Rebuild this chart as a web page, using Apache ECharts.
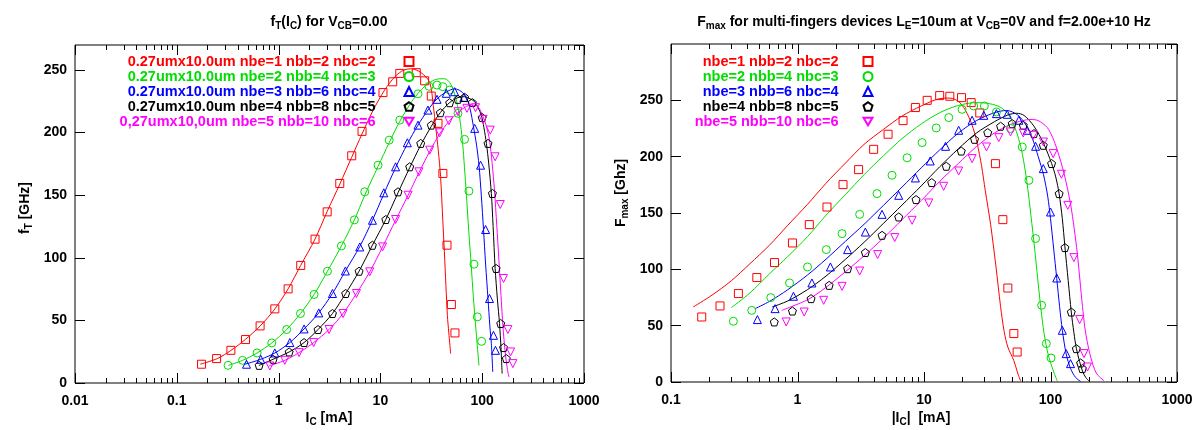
<!DOCTYPE html>
<html><head><meta charset="utf-8">
<script src="https://cdn.jsdelivr.net/npm/echarts@6/dist/echarts.min.js"></script>
<style>html,body{margin:0;padding:0;background:#fff}#c{width:1202px;height:430px}</style>
</head><body><div id="c"></div>
<script>
// ---------- tick labels ----------
const leftXTicks = [0.01, 0.1, 1, 10, 100, 1000];
const leftXLabels = ['0.01', '0.1', '1', '10', '100', '1000'];
const rightXTicks = [0.1, 1, 10, 100, 1000];
const rightXLabels = ['0.1', '1', '10', '100', '1000'];
const leftMinor = [0.02,0.03,0.04,0.05,0.06,0.07,0.08,0.09,0.2,0.3,0.4,0.5,0.6,0.7,0.8,0.9,2,3,4,5,6,7,8,9,20,30,40,50,60,70,80,90,200,300,400,500,600,700,800,900];
const rightMinor = [0.2,0.3,0.4,0.5,0.6,0.7,0.8,0.9,2,3,4,5,6,7,8,9,20,30,40,50,60,70,80,90,200,300,400,500,600,700,800,900];

// ---------- names ----------
const leftNames = ['0.27umx10.0um nbe=1 nbb=2 nbc=2','0.27umx10.0um nbe=2 nbb=4 nbc=3','0.27umx10.0um nbe=3 nbb=6 nbc=4','0.27umx10.0um nbe=4 nbb=8 nbc=5','0,27umx10,0um nbe=5 nbb=10 nbc=6'];
const rightNames = ['nbe=1 nbb=2 nbc=2','nbe=2 nbb=4 nbc=3','nbe=3 nbb=6 nbc=4','nbe=4 nbb=8 nbc=5','nbe=5 nbb=10 nbc=6'];

// ---------- fT(Ic) measured points ----------
const ftRed = [[0.175,15],[0.246,19.5],[0.34,26.1],[0.473,34.7],[0.658,45.6],[0.918,59.2],[1.24,75.2],[1.65,93.9],[2.28,114.9],[3.0,136.7],[3.99,159.4],[5.23,181.5],[6.6,201],[10.6,232],[13.2,240.6],[15.5,247.3],[22.5,247.9],[27.2,241.4],[31.6,229.2],[36.8,207.4],[41.1,167.4],[45.1,110.1],[49.8,62.7],[54.0,40.0]];
const ftGreen = [[0.319,14.1],[0.442,18.1],[0.615,24],[0.857,32],[1.2,42.7],[1.64,55.5],[2.23,70.7],[3.02,89.3],[4.14,109.5],[5.55,130.3],[7.02,152.7],[9.48,174],[12.2,194],[15.5,210],[23.4,231],[30,237],[36,238],[41,236.7],[47.9,234],[57.8,215.4],[67.1,194.6],[74.1,153.3],[83,94.9],[89.5,52.8],[98.7,33.3]];
const ftBlue = [[0.484,15],[0.668,18.9],[0.918,24],[1.29,32.3],[1.78,43.2],[2.48,56],[3.38,71.5],[4.53,89.5],[6.27,108.7],[8.35,130],[10.8,151.9],[14.1,172.7],[18.4,191.9],[23.4,206],[29.3,218],[36,226.6],[44.4,231.4],[53.6,232.7],[66,228],[84.4,203.4],[96.4,174],[108,122.6],[118,67.5],[129,38.1],[135,26.1]];
const ftBlack = [[0.644,14.1],[0.883,18.9],[1.27,24.8],[1.78,32.3],[2.44,42.7],[3.38,55.5],[4.56,71.5],[6.17,89.3],[8.34,110],[11.3,130.6],[14.9,152.7],[19.4,172.7],[24.9,191.4],[31.6,206],[38.8,215.9],[47.9,223.9],[57.8,226.6],[67.2,228.2],[80,224],[100,212],[114,191.4],[126,151.4],[137,91.5],[152,47.5],[162,28.3],[172.5,19.5]];
const ftMagenta = [[0.82,13.6],[1.15,18.1],[1.59,24.3],[2.21,32.3],[3.13,42.7],[4.3,55.5],[5.82,71.5],[7.86,88.8],[10.5,108.7],[14.1,130.6],[18.7,150],[23.9,168.7],[30.5,186],[38.2,199.9],[47.1,209.5],[57.8,216.7],[70.8,219.4],[86,219.9],[102,210.6],[120,202],[134,180.7],[150.5,142.6],[162,83.5],[178.8,42.7],[190,24.8],[200,15.5]];

// ---------- fT(Ic) model curves ----------
const ftRedLine = [[0.17,15],[0.25,19.5],[0.34,26],[0.47,34.7],[0.66,45.6],[0.92,59.2],[1.24,75.2],[1.65,94],[2.28,115],[3,137],[4,159],[5.2,180],[6.6,199],[8.5,218],[11,234],[14,245],[17,250],[20,251],[25,248],[30.5,240],[33,222],[35,204],[37,186],[39,165],[41,130],[42.5,105],[44,78],[45.5,54],[47,40],[49,23.5]];
const ftGreenLine = [[0.32,14],[0.44,18],[0.615,24],[0.857,32],[1.2,42.7],[1.64,55.5],[2.23,70.7],[3.02,89.3],[4.14,109.5],[5.55,130.3],[7.02,150],[9.48,173],[12.2,192],[15.5,209],[20,224],[25,234],[31,240.5],[38,243],[43,243],[48,240],[52,234],[56,225],[60,212],[64,193],[67,172],[70,150],[74,120],[78,94],[82,68],[85,52],[89,32],[93,14]];
const ftBlueLine = [[0.47,15],[0.67,19],[0.92,24],[1.29,32.3],[1.78,43.2],[2.48,56],[3.38,71.5],[4.53,89.5],[6.27,109],[8.35,130],[10.8,151],[14.1,172],[18.4,191],[23.4,206],[29.3,218],[36,227],[44.4,232.5],[53.6,235],[62,233],[70,228],[76,219],[82,205],[88,190],[93,174],[98,150],[103,122.6],[108,95],[114,67.5],[119,45],[123,31.5],[127,8.8]];
const ftBlackLine = [[0.64,14],[0.88,18.9],[1.27,24.8],[1.78,32.3],[2.44,42.7],[3.38,55.5],[4.56,71.5],[6.17,89.3],[8.34,110],[11.3,130.6],[14.9,152],[19.4,172],[24.9,190],[31.6,205],[38.8,216],[47.9,224],[57.8,228],[67,228.7],[76,227],[84.4,224.7],[91,220],[98,214],[104,204],[110,191.4],[116,175],[123,151.4],[128,125],[134,91.5],[141,67],[148,47.5],[153,28],[157,7.5]];
const ftMagentaLine = [[0.8,13.6],[1.15,18.1],[1.59,24.3],[2.21,32.3],[3.13,42.7],[4.3,55.5],[5.82,71.5],[7.86,88.8],[10.5,108.7],[14.1,130],[18.7,150],[23.9,168],[30.5,185],[38.2,199],[47.1,209],[57.8,216],[70,221],[78,222],[90.8,220.7],[102,212.7],[110,205],[118,194],[125,176],[132,154],[139,126],[146,98],[153,70],[160,44.8],[168,25],[176,12],[183,4.8]];

// ---------- Fmax(Ic) measured points ----------
const fmRed = [[0.175,57.7],[0.244,67.5],[0.341,78.5],[0.477,92.7],[0.658,106],[0.912,123.4],[1.24,139.7],[1.71,155.3],[2.29,175.2],[3.04,188.5],[4.0,206.5],[5.2,219.9],[6.83,232],[8.55,243.6],[10.6,250],[13.3,254.2],[16,253.6],[19.8,252.4],[23.6,248],[27.6,238.8],[36.7,193.8],[42,144.1],[46,83.4],[51.3,43],[54.5,26.6]];
const fmGreen = [[0.311,53.9],[0.435,63.6],[0.615,74.9],[0.865,87.9],[1.2,102.1],[1.69,117.5],[2.25,131.7],[3.1,148.8],[4.25,167.2],[5.59,183.5],[7.35,199],[9.66,212.5],[12.5,225.5],[15.7,234.7],[20,242],[24.7,245],[30,245],[37.4,239.7],[48.3,225],[59.8,208.6],[67.5,179],[76.2,127.3],[85.1,68.1],[92.7,34.1],[101,21.3]];
const fmBlue = [[0.482,55.4],[0.665,65.1],[0.929,76.1],[1.3,87.9],[1.82,102.1],[2.49,117.5],[3.44,133.1],[4.66,148.8],[6.31,165.7],[8.55,181.1],[11.2,196.2],[14.8,209.2],[18.8,223.4],[24,232.3],[29.7,236.7],[37.4,238.2],[45.5,237.6],[56.2,232.3],[65.5,223.4],[76.2,209.2],[87.7,189.4],[100,150.9],[112,92.3],[124,45.9],[133,25.2],[144,16.3]];
const fmBlack = [[0.655,53.3],[0.912,63],[1.28,74],[1.78,85.8],[2.49,100.6],[3.44,114.9],[4.66,130.2],[6.31,146.5],[8.65,161.9],[11.5,177],[15,191.5],[19.7,205],[25.1,215.4],[31.9,221.4],[40.3,227],[49.8,229.4],[60.9,227.9],[74,220.5],[87.7,210.1],[102,193.9],[117,167.2],[130,119.3],[146,62.1],[160,29.6],[173,16.9],[178.6,11.9]];
const fmMagenta = [[0.814,53.3],[1.13,62.1],[1.61,72.5],[2.25,84.9],[3.1,98.5],[4.3,113.1],[5.87,128.2],[8.05,143.5],[10.9,158.9],[14.3,173.7],[18.8,187.3],[24,198.3],[31.2,208.6],[39,216.9],[48.3,221.9],[60.9,221],[73.1,219],[88,213],[105,202.7],[122,184.4],[137,156.8],[153,110.4],[170,55.4],[184,25.2],[196,13.3]];

// ---------- Fmax(Ic) model curves ----------
const fmRedLine = [[0.15,66.6],[0.211,77.1],[0.3,89.9],[0.42,104.9],[0.6,121.4],[0.84,139.2],[1.2,157.7],[1.68,176.4],[2.4,194.4],[3.36,210.9],[4.8,224.4],[6.7,236],[9.5,245],[13.3,251.5],[16,252],[19,248.5],[22,238],[24.5,225],[26.3,212],[28.5,192],[30.5,170],[33.6,140],[37,103],[40.3,67],[43,45],[46,31],[51.3,19],[55,8],[58,1]];
const fmGreenLine = [[0.3,66],[0.42,79],[0.6,96],[0.84,111.5],[1.2,129],[1.68,148],[2.4,166.5],[3.36,184],[4.8,201],[6.7,216],[9.5,229],[13.3,239],[18.7,245.5],[26,248],[33,247],[40,244],[46,238],[51,229],[56,216],[60,202],[65,178],[70,148],[75,118],[79,93],[84,65],[89,43],[96,24],[106,9],[113,1]];
const fmBlueLine = [[0.46,65],[0.6,71.5],[0.84,82],[1.2,95],[1.68,109],[2.4,125],[3.36,140],[4.8,157],[6.7,173],[9.5,190],[13.3,206],[18.7,221],[26,232],[36,239],[45,241],[55,237],[64,228],[72,216],[80,200],[88,184],[95,165],[100,145],[106,118],[112,92],[118,67],[124,46],[133,25],[144,12],[158,4],[173,0.5]];
const fmBlackLine = [[0.63,66.6],[0.84,72],[1.2,82],[1.68,94],[2.4,109],[3.36,124],[4.8,141],[6.7,157],[9.5,174],[13.3,191],[18.7,207],[26,221],[36,231],[46,237],[54,238.5],[62,236.5],[74,227],[88,212],[102,194],[110,182],[117,167],[124,145],[130,120],[138,90],[146,62],[153,44],[160,30],[170,18],[180,9],[190,4],[201,1]];
const fmMagentaLine = [[0.75,63.6],[1.2,73],[1.68,84],[2.4,98],[3.36,112],[4.8,128],[6.7,144],[9.5,161],[13.3,178],[18.7,194],[26,209],[36,221],[48,228.5],[60,232],[70,233],[80,232],[94,226],[104,217],[113,206],[128,185],[144,158],[154,136],[163,114],[171,90],[179,67],[187,48],[195,36],[208,22],[230,8],[265,1]];

// ---------- styling ----------
const COLORS = ['#ff0000', '#00dd00', '#0000ff', '#000000', '#ff00ff'];
const SYMBOLS = ['rect', 'circle', 'triangle', 'path://M0,-10L9.51,-3.09L5.88,8.09L-5.88,8.09L-9.51,-3.09Z', 'path://M-10,-8L10,-8L0,9Z'];
const FONTNAME = 'Liberation Sans';
const FONT = '"Liberation Sans", Arial, Helvetica, sans-serif';

const leftPts = [ftRed, ftGreen, ftBlue, ftBlack, ftMagenta];
const leftLines = [ftRedLine, ftGreenLine, ftBlueLine, ftBlackLine, ftMagentaLine];
const rightPts = [fmRed, fmGreen, fmBlue, fmBlack, fmMagenta];
const rightLines = [fmRedLine, fmGreenLine, fmBlueLine, fmBlackLine, fmMagentaLine];

function labelFor(ticks, labels) {
  return function (v) {
    let best = 0, bd = Infinity;
    ticks.forEach((t, i) => { const d = Math.abs(Math.log10(v) - Math.log10(t)); if (d < bd) { bd = d; best = i; } });
    return labels[best];
  };
}

function tickSeries(xIdx, yIdx, vals, len, ymax) {
  return {
    type: 'custom', xAxisIndex: xIdx, yAxisIndex: yIdx, silent: true, clip: false, z: 5,
    data: vals.map(v => [v, 0]),
    renderItem: function (params, api) {
      const v = api.value(0);
      const b = api.coord([v, 0]);
      const t = api.coord([v, ymax]);
      const x = Math.round(b[0]) + 0.5;
      return { type: 'group', children: [
        { type: 'line', shape: { x1: x, y1: b[1], x2: x, y2: b[1] - len }, style: { stroke: '#000', lineWidth: 1 } },
        { type: 'line', shape: { x1: x, y1: t[1], x2: x, y2: t[1] + len }, style: { stroke: '#000', lineWidth: 1 } }
      ] };
    }
  };
}

const series = [];
function addPanel(gi, pts, lines, names) {
  for (let i = 0; i < 5; i++) {
    series.push({
      type: 'line', xAxisIndex: gi, yAxisIndex: gi * 2, data: lines[i], showSymbol: false,
      smooth: 0.3, silent: true, z: 2,
      lineStyle: { color: COLORS[i], width: 1 }, itemStyle: { color: COLORS[i] }
    });
    series.push({
      type: 'scatter', name: names[i], xAxisIndex: gi, yAxisIndex: gi * 2, data: pts[i],
      symbol: SYMBOLS[i], symbolSize: 8, silent: true, z: 3,
      itemStyle: { color: 'rgba(0,0,0,0)', borderColor: COLORS[i], borderWidth: 1, opacity: 1 }
    });
  }
}
addPanel(0, leftPts, leftLines, leftNames);
addPanel(1, rightPts, rightLines, rightNames);
series.push(tickSeries(0, 0, leftXTicks, 10, 270));
series.push(tickSeries(0, 0, leftMinor, 5, 270));
series.push(tickSeries(1, 2, rightXTicks, 10, 300));
series.push(tickSeries(1, 2, rightMinor, 5, 300));

const labelStyle = { fontFamily: FONT, fontSize: 14, fontWeight: 'bold', color: '#000' };

function xAxisCfg(gi, min, max, ticks, labels, split) {
  return {
    type: 'log', logBase: 10, gridIndex: gi, min: min, max: max, splitNumber: split,
    axisLine: { show: false }, axisTick: { show: false }, splitLine: { show: false }, minorTick: { show: false },
    axisLabel: Object.assign({ margin: 11, showMinLabel: true, showMaxLabel: true, formatter: labelFor(ticks, labels) }, labelStyle)
  };
}
function yAxisCfg(gi, max, pos, showLabel) {
  return {
    type: 'value', gridIndex: gi, min: 0, max: max, interval: 50, position: pos,
    axisLine: { show: false }, splitLine: { show: false },
    axisTick: { show: true, inside: true, length: 10, lineStyle: { color: '#000', width: 1 } },
    axisLabel: Object.assign({ show: showLabel, margin: 8, showMaxLabel: false }, labelStyle)
  };
}

// text with real subscripts: segments laid out left to right using measured widths
const measureCtx = document.createElement('canvas').getContext('2d');
function subText(cx, cy, segs, rot, mainSize, subSize) {
  const fonts = segs.map(sg => 'bold ' + (sg[1] ? subSize : mainSize) + 'px "' + FONTNAME + '"');
  const widths = segs.map((sg, i) => { measureCtx.font = fonts[i]; return measureCtx.measureText(sg[0]).width; });
  const W = widths.reduce((a, b) => a + b, 0);
  let x = -W / 2;
  const children = segs.map((sg, i) => {
    const el = { type: 'text', x: x, y: sg[1] ? Math.round(mainSize * 0.3) : 0, silent: true,
      style: { text: sg[0], font: fonts[i], fill: '#000', align: 'left', verticalAlign: 'middle', textAlign: 'left', textVerticalAlign: 'middle' } };
    x += widths[i];
    return el;
  });
  return { type: 'group', x: cx, y: cy, rotation: rot || 0, silent: true, children: children };
}

function legendCfg(names, iconCenterX, padRight) {
  return {
    orient: 'vertical', align: 'right', right: 1202 - (iconCenterX + 4.5), top: 54,
    itemWidth: 9, itemHeight: 9, itemGap: 0, padding: 0, selectedMode: false,
    textStyle: { fontFamily: FONT, fontSize: 14.5, fontWeight: 'bold', lineHeight: 15, padding: [0, padRight, 0, 0] },
    data: names.map((nm, i) => ({ name: nm, textStyle: { color: COLORS[i] } }))
  };
}

const option = {
  animation: false,
  backgroundColor: '#fff',
  grid: [
    { left: 75, top: 45, width: 509, height: 338, show: true, borderColor: '#000', borderWidth: 1, backgroundColor: 'transparent' },
    { left: 671, top: 44, width: 506, height: 338, show: true, borderColor: '#000', borderWidth: 1, backgroundColor: 'transparent' }
  ],
  xAxis: [
    xAxisCfg(0, 0.01, 1000, leftXTicks, leftXLabels, 5),
    xAxisCfg(1, 0.1, 1000, rightXTicks, rightXLabels, 4)
  ],
  yAxis: [
    yAxisCfg(0, 270, 'left', true), yAxisCfg(0, 270, 'right', false),
    yAxisCfg(1, 300, 'left', true), yAxisCfg(1, 300, 'right', false)
  ],
  legend: [legendCfg(leftNames, 410, 24), legendCfg(rightNames, 869, 20)],
  graphic: [
    subText(329, 22, [['f',0],['T',1],['(I',0],['C',1],[') for V',0],['CB',1],['=0.00',0]], 0, 14, 10),
    subText(924, 22, [['F',0],['max',1],[' for multi-fingers devices L',0],['E',1],['=10um at V',0],['CB',1],['=0V and f=2.00e+10 Hz',0]], 0, 14, 10),
    subText(329, 418, [['I',0],['C',1],[' [mA]',0]], 0, 14, 10),
    subText(921, 418, [['|I',0],['C',1],['|  [mA]',0]], 0, 14, 10),
    subText(25, 208, [['f',0],['T',1],[' [GHz]',0]], Math.PI / 2, 14, 10),
    subText(621, 193, [['F',0],['max',1],[' [Ghz]',0]], Math.PI / 2, 14, 10)
  ],
  series: series
};

const chart = echarts.init(document.getElementById('c'));
chart.setOption(option);
</script></body></html>
